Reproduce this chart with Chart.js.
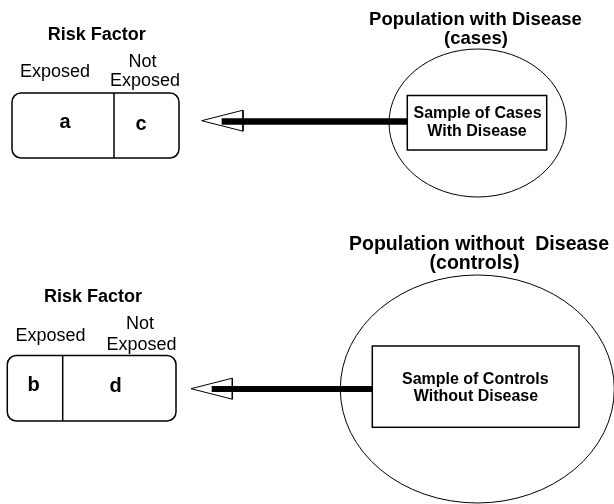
<!DOCTYPE html>
<html>
<head>
<meta charset="utf-8">
<script src="https://cdn.jsdelivr.net/npm/chart.js@4.4.0/dist/chart.umd.min.js"></script>
<style>
html,body{margin:0;padding:0;background:#fff;}
#c{display:block;}
</style>
</head>
<body>
<canvas id="c" width="614" height="504"></canvas>
<script>
// ---- Text content ----
const riskTitles = ['Risk Factor', 'Risk Factor'];
const exposedLabel = 'Exposed';
const notExposedLabel = ['Not', 'Exposed'];
const cellLetters = [['a', 'c'], ['b', 'd']];
const populationTitles = [['Population with Disease', '(cases)'], ['Population without  Disease', '(controls)']];
const sampleLabels = [['Sample of Cases', 'With Disease'], ['Sample of Controls', 'Without Disease']];

// ---- Diagram layout (in diagram units = axis units) ----
const layout = [
  {
    table: {x0: 12, x1: 179, y0: 93, y1: 158, div: 114, r: 9},
    title: {x: 96.7, y: 40, size: 18},
    exp: {x: 55, y: 77.3, size: 18},
    notExp: {x: [142.5, 145], y: [66.7, 86], size: 18},
    cells: [{x: 65, y: 128}, {x: 141, y: 130}], cellSize: 20,
    arrow: {tipX: 201.7, tipY: 120.7, baseX: 243, half: 10.5, shaftX0: 221.7, shaftX1: 407, shaftY: 121.5, w: 6.5},
    ellipse: {cx: 477.7, cy: 123, rx: 88.7, ry: 74},
    pop: {x: [475.5, 476], y: [24.5, 44], size: 18.5},
    box: {x0: 407.3, x1: 546.7, y0: 95.5, y1: 150},
    sample: {x: [477.5, 477], y: [118.3, 136], size: 16}
  },
  {
    table: {x0: 7.3, x1: 176, y0: 355.5, y1: 421, div: 62.7, r: 9},
    title: {x: 93, y: 302, size: 18},
    exp: {x: 50.5, y: 340.5, size: 18},
    notExp: {x: [140, 141.5], y: [329, 349.5], size: 18},
    cells: [{x: 33.7, y: 390.5}, {x: 115.5, y: 392}], cellSize: 20,
    arrow: {tipX: 191, tipY: 388.7, baseX: 232.3, half: 10.5, shaftX0: 211.7, shaftX1: 372, shaftY: 389, w: 6},
    ellipse: {cx: 477.3, cy: 389, rx: 137, ry: 114},
    pop: {x: [479, 474.5], y: [250, 268.5], size: 19.5},
    box: {x0: 372.3, x1: 579, y0: 346, y1: 427.3},
    sample: {x: [475.3, 476], y: [383.5, 401], size: 16}
  }
];

const FONT = '"Liberation Sans", Arial, Helvetica, sans-serif';

// Line datasets for arrow shafts and open arrow heads
const datasets = [];
layout.forEach(p => {
  const a = p.arrow;
  datasets.push({
    type: 'line',
    data: [{x: a.shaftX0, y: a.shaftY}, {x: a.shaftX1, y: a.shaftY}],
    borderColor: '#000', borderWidth: a.w, borderCapStyle: 'butt',
    pointRadius: 0, fill: false, tension: 0
  });
  datasets.push({
    type: 'line',
    data: [{x: a.tipX, y: a.tipY}, {x: a.baseX, y: a.tipY - a.half}, {x: a.baseX, y: a.tipY + a.half}, {x: a.tipX, y: a.tipY}],
    borderColor: '#000', borderWidth: 1, borderJoinStyle: 'miter',
    pointRadius: 0, fill: false, tension: 0
  });
});

const diagramPlugin = {
  id: 'diagram',
  afterDatasetsDraw(chart) {
    const ctx = chart.ctx;
    const xs = chart.scales.x, ys = chart.scales.y;
    const X = v => xs.getPixelForValue(v);
    const Y = v => ys.getPixelForValue(v);
    ctx.save();
    ctx.strokeStyle = '#000';
    ctx.fillStyle = '#000';
    ctx.textAlign = 'center';
    ctx.textBaseline = 'alphabetic';
    layout.forEach((p, i) => {
      // rounded table
      const t = p.table;
      ctx.lineWidth = 1.5;
      ctx.beginPath();
      ctx.roundRect(X(t.x0), Y(t.y0), X(t.x1) - X(t.x0), Y(t.y1) - Y(t.y0), t.r);
      ctx.stroke();
      ctx.beginPath();
      ctx.moveTo(X(t.div), Y(t.y0));
      ctx.lineTo(X(t.div), Y(t.y1));
      ctx.stroke();
      // ellipse
      const e = p.ellipse;
      ctx.lineWidth = 1;
      ctx.beginPath();
      ctx.ellipse(X(e.cx), Y(e.cy), Math.abs(X(e.cx + e.rx) - X(e.cx)), Math.abs(Y(e.cy + e.ry) - Y(e.cy)), 0, 0, Math.PI * 2);
      ctx.stroke();
      // sample box
      const b = p.box;
      ctx.fillStyle = '#fff';
      ctx.fillRect(X(b.x0), Y(b.y0), X(b.x1) - X(b.x0), Y(b.y1) - Y(b.y0));
      ctx.fillStyle = '#000';
      ctx.lineWidth = 1.5;
      ctx.strokeRect(X(b.x0), Y(b.y0), X(b.x1) - X(b.x0), Y(b.y1) - Y(b.y0));
      // texts
      ctx.font = 'bold ' + p.title.size + 'px ' + FONT;
      ctx.fillText(riskTitles[i], X(p.title.x), Y(p.title.y));
      ctx.font = p.exp.size + 'px ' + FONT;
      ctx.fillText(exposedLabel, X(p.exp.x), Y(p.exp.y));
      ctx.font = p.notExp.size + 'px ' + FONT;
      notExposedLabel.forEach((s, k) => ctx.fillText(s, X(p.notExp.x[k]), Y(p.notExp.y[k])));
      ctx.font = 'bold ' + p.cellSize + 'px ' + FONT;
      cellLetters[i].forEach((s, k) => ctx.fillText(s, X(p.cells[k].x), Y(p.cells[k].y)));
      ctx.font = 'bold ' + p.pop.size + 'px ' + FONT;
      populationTitles[i].forEach((s, k) => ctx.fillText(s, X(p.pop.x[k]), Y(p.pop.y[k])));
      ctx.font = 'bold ' + p.sample.size + 'px ' + FONT;
      sampleLabels[i].forEach((s, k) => ctx.fillText(s, X(p.sample.x[k]), Y(p.sample.y[k])));
    });
    ctx.restore();
  }
};

new Chart(document.getElementById('c'), {
  type: 'scatter',
  data: {datasets},
  options: {
    responsive: false,
    animation: false,
    devicePixelRatio: 1,
    layout: {padding: 0},
    plugins: {legend: {display: false}, tooltip: {enabled: false}, title: {display: false}},
    scales: {
      x: {type: 'linear', min: 0, max: 614, display: false},
      y: {type: 'linear', min: 0, max: 504, reverse: true, display: false}
    }
  },
  plugins: [diagramPlugin]
});
</script>
</body>
</html>
